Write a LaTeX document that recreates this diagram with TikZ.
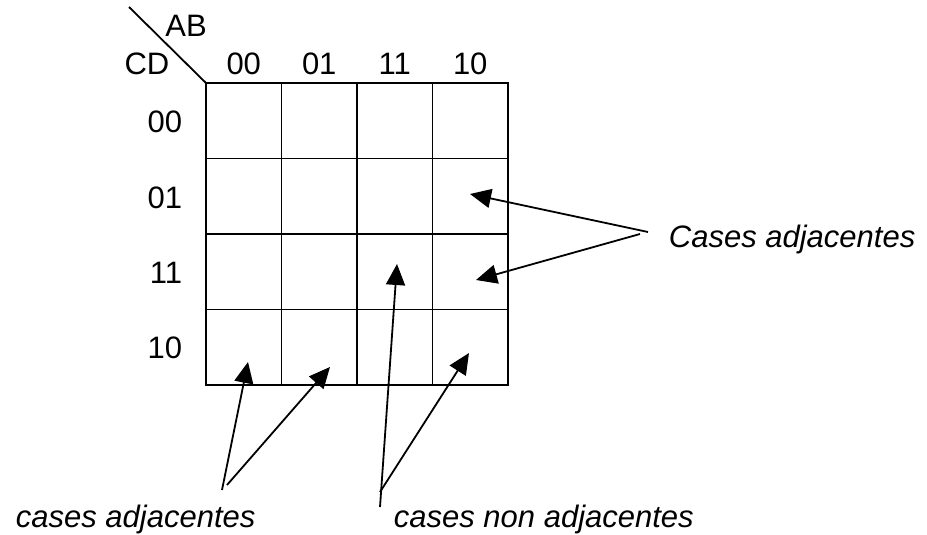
\documentclass[tikz,border=0pt]{standalone}
\usepackage{fontspec}
\setmainfont{Liberation Sans}
\usetikzlibrary{arrows.meta}
\begin{document}
\begin{tikzpicture}[
                      x=1pt, y=-1pt, line width=1.8pt,
                      lbl/.style = {inner sep=0pt, font=\fontsize{31}{37}\selectfont},
                      note/.style = {lbl, font=\fontsize{31}{37}\selectfont\itshape, anchor=base west},
                      cell/.style = {draw, minimum size=75.5pt, inner sep=0pt, outer sep=0pt},
                      pointer/.style = {-{Triangle[length=21pt, width=19pt]}}
                  ]
                  \useasboundingbox (0,0) rectangle (927,535);
                  % the map
                  \foreach \r in {1,...,4}
                    \foreach \c in {1,...,4}
                      \node[cell] (cell-\r-\c) at ({206+75.5*(\c-0.5)}, {83+75.5*(\r-0.5)}) {};
                  \coordinate (corner) at (129,7);
                  \draw (corner) -- (cell-1-1.north west);
                  \node[lbl, anchor=base] (ab) at (186,37) {AB};
                  \node[lbl, anchor=base] (cd) at (147,75) {CD};
                  \foreach \t [count=\c] in {00,01,11,10}
                    \node[lbl, anchor=base] (col-\c) at ({206+75.5*(\c-0.5)}, 75) {\t};
                  \foreach \t/\y [count=\r] in {00/132,01/208,11/283,10/358}
                    \node[lbl, anchor=base east] (row-\r) at (183,\y) {\t};
                  % notes
                  \node[note] (adjright) at (668,247) {Cases adjacentes};
                  \node[note] (adjleft) at (15,527) {cases adjacentes};
                  \node[note] (nonadj) at (393,527) {cases non adjacentes};
                  \coordinate (tailA) at (648,232);
                  \coordinate (tailB) at (640,234);
                  \coordinate (tailC) at (222,490);
                  \coordinate (tailD) at (227,485);
                  \coordinate (tailE) at (380,507);
                  \coordinate (tailF) at (380,492);
                  \draw[pointer] (tailA) -- (470,194);
                  \draw[pointer] (tailB) -- (476,280);
                  \draw[pointer] (tailC) -- (248,362);
                  \draw[pointer] (tailD) -- (330,367);
                  \draw[pointer] (tailE) -- (397,264);
                  \draw[pointer] (tailF) -- (469,353);
              \end{tikzpicture}
\end{document}
